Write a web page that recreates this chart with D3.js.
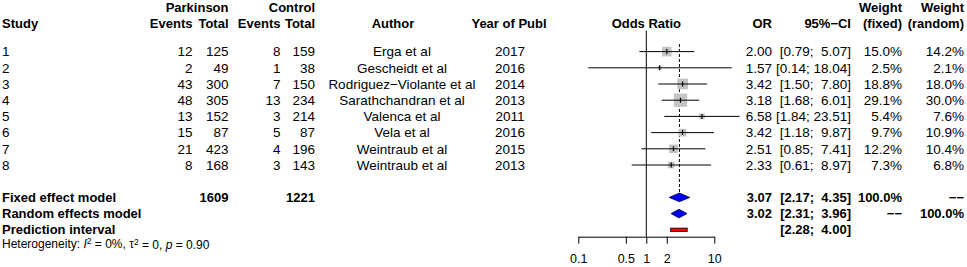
<!DOCTYPE html>
<html>
<head>
<meta charset="utf-8">
<script src="https://cdn.jsdelivr.net/npm/d3@7"></script>
<style>
  html, body { margin: 0; padding: 0; background: #fff; }
  svg text { font-family: "Liberation Sans", Arial, sans-serif; white-space: pre; }
</style>
</head>
<body>
<div id="chart"></div>
<script>
const STUDIES     = ["1", "2", "3", "4", "5", "6", "7", "8"];
const PARK_EVENTS = [12, 2, 43, 48, 13, 15, 21, 8];
const PARK_TOTAL  = [125, 49, 300, 305, 152, 87, 423, 168];
const CTRL_EVENTS = [8, 1, 7, 13, 3, 5, 4, 3];
const CTRL_TOTAL  = [159, 38, 150, 234, 214, 87, 196, 143];
const AUTHORS = ["Erga et al", "Gescheidt et al", "Rodriguez\u2212Violante et al", "Sarathchandran et al",
                 "Valenca et al", "Vela et al", "Weintraub et al", "Weintraub et al"];
const YEARS   = [2017, 2016, 2014, 2013, 2011, 2016, 2015, 2013];
const OR      = [2.00, 1.57, 3.42, 3.18, 6.58, 3.42, 2.51, 2.33];
const LOWER   = [0.79, 0.14, 1.50, 1.68, 1.84, 1.18, 0.85, 0.61];
const UPPER   = [5.07, 18.04, 7.80, 6.01, 23.51, 9.87, 7.41, 8.97];
const W_FIXED  = [15.0, 2.5, 18.8, 29.1, 5.4, 9.7, 12.2, 7.3];
const W_RANDOM = [14.2, 2.1, 18.0, 30.0, 7.6, 10.9, 10.4, 6.8];

const SUMMARY = [
  { label: "Fixed effect model",    or: 3.07, lo: 2.17, hi: 4.35, wf: "100.0%", wr: "\u2212\u2212", kind: "diamond" },
  { label: "Random effects model",  or: 3.02, lo: 2.31, hi: 3.96, wf: "\u2212\u2212", wr: "100.0%", kind: "diamond" },
  { label: "Prediction interval",   or: null, lo: 2.28, hi: 4.00, wf: "", wr: "", kind: "pred" },
];
const TOTALS = [1609, 1221];
const AXIS_TICKS = [0.1, 0.5, 1, 2, 10];

const width = 967, height = 267;
const svg = d3.select("#chart").append("svg").attr("width", width).attr("height", height);

const x = d3.scaleLog().domain([0.1, 10]).range([578.3, 714.3]);
const row = d3.scaleLinear().domain([0, 1]).range([51.6, 67.8]);
const sq = d3.scaleSqrt().domain([0, d3.max(W_FIXED)]).range([0, 13.3]);

// column anchors
const COL = { pe: 192.5, pt: 228.5, ce: 280.5, ct: 315, author: 402, year: 510, or: 772, ci: 851, wf: 902, wr: 964 };

function txt(xp, yp, s, anchor, bold) {
  return svg.append("text")
    .attr("x", xp).attr("y", yp).attr("dy", "0.35em")
    .attr("text-anchor", anchor || "start")
    .attr("font-size", bold ? "13px" : "13.5px")
    .attr("font-weight", bold ? "bold" : "normal")
    .attr("fill", "#000")
    .text(s);
}

// Column headers
const h1 = 7, h2 = 23.5;
txt(2, h2, "Study", "start", true);
txt(COL.pt, h1, "Parkinson", "end", true);
txt(COL.pe, h2, "Events", "end", true);
txt(COL.pt, h2, "Total", "end", true);
txt(COL.ct, h1, "Control", "end", true);
txt(COL.ce, h2, "Events", "end", true);
txt(COL.ct, h2, "Total", "end", true);
txt(393, h2, "Author", "middle", true);
txt(509, h2, "Year of Publ", "middle", true);
txt(x(1), h2, "Odds Ratio", "middle", true);
txt(COL.or, h2, "OR", "end", true);
txt(COL.ci, h2, "95%\u2212CI", "end", true);
txt(COL.wf, h1, "Weight", "end", true);
txt(COL.wf, h2, "(fixed)", "end", true);
txt(COL.wr, h1, "Weight", "end", true);
txt(COL.wr, h2, "(random)", "end", true);

const fmt2 = d3.format(".2f");
const ci = (lo, hi) => {
  const h = fmt2(hi);
  return "[" + fmt2(lo) + "; " + (h.length < 5 ? " " : "") + h + "]";
};

// Study rows
STUDIES.forEach((s, i) => {
  const y = row(i);
  txt(2, y, s);
  txt(COL.pe, y, PARK_EVENTS[i], "end");
  txt(COL.pt, y, PARK_TOTAL[i], "end");
  txt(COL.ce, y, CTRL_EVENTS[i], "end");
  txt(COL.ct, y, CTRL_TOTAL[i], "end");
  txt(COL.author, y, AUTHORS[i], "middle");
  txt(COL.year, y, YEARS[i], "middle");
  txt(COL.or, y, fmt2(OR[i]), "end");
  txt(COL.ci, y, ci(LOWER[i], UPPER[i]), "end");
  txt(COL.wf, y, W_FIXED[i].toFixed(1) + "%", "end");
  txt(COL.wr, y, W_RANDOM[i].toFixed(1) + "%", "end");
});

// Summary rows
SUMMARY.forEach((d, k) => {
  const y = row(9 + k);
  txt(2, y, d.label, "start", true);
  if (d.or != null) txt(COL.or, y, fmt2(d.or), "end", true);
  txt(COL.ci, y, ci(d.lo, d.hi), "end", true);
  if (d.wf) txt(COL.wf, y, d.wf, "end", true);
  if (d.wr) txt(COL.wr, y, d.wr, "end", true);
});
txt(COL.pt, row(9), TOTALS[0], "end", true);
txt(COL.ct, row(9), TOTALS[1], "end", true);

// Heterogeneity
const het = svg.append("text").attr("x", 2).attr("y", row(11.85)).attr("dy", "0.35em")
  .attr("font-size", "12px").attr("fill", "#000");
het.append("tspan").text("Heterogeneity: ");
het.append("tspan").attr("font-style", "italic").text("I");
het.append("tspan").attr("font-size", "8.5px").attr("dy", "-0.45em").text("2");
het.append("tspan").attr("dy", "0.3em").text(" = 0%, \u03c4");
het.append("tspan").attr("font-size", "8.5px").attr("dy", "-0.3em").text("2");
het.append("tspan").attr("dy", "0.3em").text(" = 0, ");
het.append("tspan").attr("font-style", "italic").text("p");
het.append("tspan").text(" = 0.90");

// Reference lines
svg.append("line").attr("x1", x(1)).attr("x2", x(1)).attr("y1", 30.5).attr("y2", 236.7)
  .attr("stroke", "#000").attr("stroke-width", 1);
svg.append("line").attr("x1", x(SUMMARY[0].or)).attr("x2", x(SUMMARY[0].or))
  .attr("y1", 44).attr("y2", row(9) - 4.3)
  .attr("stroke", "#000").attr("stroke-width", 1).attr("stroke-dasharray", "3,2");

// Study squares and CIs
const idx = d3.range(STUDIES.length);
svg.selectAll(".sq").data(idx).join("rect")
  .attr("class", "sq")
  .attr("x", (i) => x(OR[i]) - sq(W_FIXED[i]) / 2)
  .attr("y", (i) => row(i) - sq(W_FIXED[i]) / 2)
  .attr("width", (i) => sq(W_FIXED[i]))
  .attr("height", (i) => sq(W_FIXED[i]))
  .attr("fill", "#c4c4c4");
svg.selectAll(".ci").data(idx).join("line")
  .attr("class", "ci")
  .attr("x1", (i) => x(LOWER[i])).attr("x2", (i) => x(UPPER[i]))
  .attr("y1", (i) => row(i)).attr("y2", (i) => row(i))
  .attr("stroke", "#000").attr("stroke-width", 1);
svg.selectAll(".pt").data(idx).join("line")
  .attr("class", "pt")
  .attr("x1", (i) => x(OR[i])).attr("x2", (i) => x(OR[i]))
  .attr("y1", (i) => row(i) - 2.5).attr("y2", (i) => row(i) + 2.5)
  .attr("stroke", "#000").attr("stroke-width", 1.2);

// Diamonds and prediction interval
SUMMARY.forEach((d, k) => {
  const y = row(9 + k);
  if (d.kind === "diamond") {
    const hh = 4.3;
    svg.append("path")
      .attr("d", `M${x(d.lo)},${y} L${x(d.or)},${y - hh} L${x(d.hi)},${y} L${x(d.or)},${y + hh} Z`)
      .attr("fill", "#0000ff").attr("stroke", "#000033").attr("stroke-width", 0.8);
  } else {
    svg.append("rect")
      .attr("x", x(d.lo)).attr("y", y - 1.7)
      .attr("width", x(d.hi) - x(d.lo)).attr("height", 3.4)
      .attr("fill", "#ff0000").attr("stroke", "#000").attr("stroke-width", 0.8);
  }
});

// Axis
const axis = svg.append("g").attr("transform", "translate(0,236.7)")
  .call(d3.axisBottom(x).tickValues(AXIS_TICKS).tickFormat((d) => String(d)).tickSize(7).tickPadding(10).tickSizeOuter(0));
axis.select(".domain").attr("stroke", "#000");
axis.selectAll(".tick line").attr("stroke", "#000");
axis.selectAll(".tick text").attr("font-size", "12.5px").attr("fill", "#000")
  .attr("font-family", "Liberation Sans, Arial, sans-serif");
</script>
</body>
</html>
